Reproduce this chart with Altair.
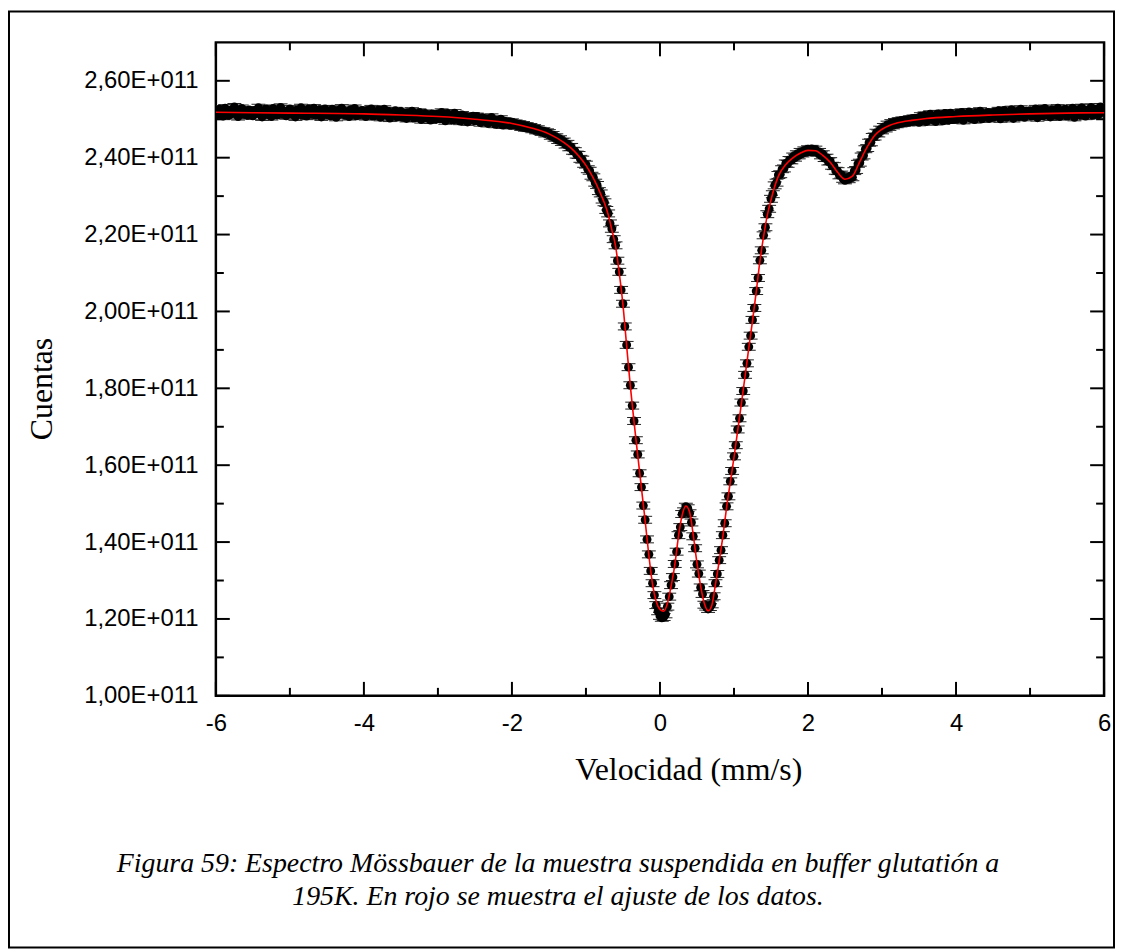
import altair as alt
import pandas as pd

# ---------------- data ----------------
# channel velocities: first channel and channel step (mm/s)
VEL_START = -6.0
VEL_STEP = 0.025
UNIT = 1e8  # counts values below are in units of 1e8

# measured counts (one row = 0.5 mm/s, 20 channels)
COUNTS = [
    2523, 2512, 2526, 2516, 2508, 2529, 2520, 2510, 2524, 2515, 2532, 2521, 2507, 2518, 2528, 2513, 2521, 2510, 2524, 2516,
    2509, 2523, 2515, 2530, 2519, 2506, 2520, 2527, 2512, 2522, 2507, 2528, 2517, 2511, 2523, 2531, 2514, 2520, 2509, 2522,
    2527, 2513, 2519, 2506, 2524, 2516, 2530, 2511, 2521, 2508, 2526, 2518, 2513, 2529, 2510, 2519, 2524, 2506, 2516, 2527,
    2512, 2521, 2509, 2526, 2517, 2505, 2523, 2513, 2529, 2518, 2510, 2520, 2507, 2525, 2515, 2528, 2509, 2518, 2512, 2523,
    2518, 2507, 2523, 2513, 2527, 2508, 2519, 2511, 2524, 2505, 2516, 2526, 2510, 2521, 2503, 2517, 2512, 2522, 2506, 2515,
    2520, 2505, 2515, 2502, 2517, 2509, 2521, 2503, 2513, 2507, 2518, 2499, 2511, 2515, 2503, 2510, 2498, 2514, 2506, 2501,
    2514, 2501, 2518, 2505, 2496, 2515, 2504, 2510, 2498, 2516, 2502, 2509, 2495, 2511, 2500, 2507, 2493, 2505, 2499, 2508,
    2496, 2507, 2499, 2491, 2504, 2495, 2501, 2489, 2498, 2505, 2493, 2487, 2497, 2490, 2500, 2485, 2495, 2488, 2493, 2484,
    2492, 2486, 2489, 2483, 2487, 2480, 2485, 2478, 2482, 2477, 2480, 2474, 2477, 2471, 2474, 2470, 2467, 2469, 2463, 2466,
    2464, 2457, 2459, 2452, 2453, 2446, 2448, 2441, 2442, 2434, 2436, 2427, 2428, 2418, 2417, 2408, 2407, 2397, 2395, 2384,
    2382, 2370, 2366, 2353, 2349, 2335, 2329, 2313, 2307, 2291, 2284, 2264, 2255, 2229, 2215, 2188, 2172, 2132, 2103, 2056,
    2020, 1961, 1913, 1855, 1808, 1755, 1715, 1665, 1628, 1579, 1543, 1495, 1458, 1407, 1368, 1325, 1293, 1262, 1236, 1220,
    1208, 1203, 1205, 1212, 1232, 1258, 1288, 1309, 1343, 1375, 1418, 1439, 1473, 1480, 1492, 1488, 1475, 1451, 1415, 1384,
    1342, 1318, 1282, 1265, 1237, 1232, 1226, 1231, 1238, 1259, 1293, 1317, 1353, 1379, 1418, 1449, 1493, 1519, 1558, 1585,
    1623, 1652, 1693, 1722, 1763, 1793, 1835, 1865, 1908, 1937, 1978, 2009, 2053, 2087, 2133, 2159, 2198, 2219, 2253, 2267,
    2293, 2305, 2328, 2335, 2355, 2357, 2370, 2372, 2385, 2384, 2394, 2393, 2403, 2400, 2409, 2406, 2415, 2411, 2419, 2414,
    2422, 2416, 2423, 2415, 2421, 2413, 2415, 2406, 2409, 2399, 2400, 2390, 2391, 2379, 2378, 2366, 2365, 2354, 2356, 2345,
    2341, 2348, 2344, 2352, 2349, 2365, 2368, 2384, 2387, 2403, 2406, 2422, 2425, 2439, 2440, 2454, 2455, 2465, 2463, 2473,
    2471, 2480, 2476, 2486, 2480, 2490, 2484, 2493, 2487, 2495, 2489, 2497, 2491, 2498, 2492, 2500, 2494, 2502, 2495, 2503,
    2492, 2508, 2497, 2510, 2494, 2505, 2513, 2499, 2508, 2494, 2514, 2501, 2510, 2496, 2515, 2503, 2498, 2516, 2499, 2509,
    2500, 2515, 2503, 2518, 2497, 2512, 2507, 2519, 2502, 2513, 2499, 2517, 2509, 2521, 2501, 2512, 2506, 2518, 2502, 2515,
    2505, 2519, 2508, 2522, 2501, 2514, 2523, 2505, 2517, 2509, 2525, 2502, 2515, 2520, 2507, 2526, 2511, 2505, 2521, 2513,
    2522, 2508, 2519, 2527, 2504, 2516, 2524, 2509, 2528, 2512, 2520, 2506, 2525, 2516, 2510, 2529, 2507, 2521, 2513, 2526,
    2508, 2522, 2514, 2529, 2505, 2519, 2525, 2511, 2530, 2516, 2508, 2524, 2517, 2531, 2510, 2520, 2526, 2512, 2532, 2518,
    2523,
]
ERR = 9  # error bar half-length, same units

# fitted curve (red), read at knots
FIT_V = [-6.0, -5.0, -4.0, -3.5, -3.0, -2.5, -2.0, -1.75, -1.5, -1.3, -1.2, -1.1, -1.0, -0.95,
         -0.9, -0.85, -0.8, -0.75, -0.7, -0.65, -0.6, -0.55, -0.5, -0.45, -0.4, -0.35, -0.3,
         -0.25, -0.2, -0.15, -0.1, -0.05, 0.0, 0.05, 0.1, 0.15, 0.2, 0.25, 0.3, 0.35, 0.4,
         0.45, 0.5, 0.55, 0.6, 0.65, 0.7, 0.75, 0.8, 0.85, 0.9, 0.95, 1.0, 1.05, 1.1, 1.15,
         1.2, 1.25, 1.3, 1.35, 1.4, 1.45, 1.5, 1.55, 1.6, 1.7, 1.8, 1.9, 2.0, 2.1, 2.2, 2.3,
         2.4, 2.5, 2.6, 2.7, 2.8, 2.9, 3.0, 3.1, 3.2, 3.4, 3.6, 4.0, 4.5, 5.0, 5.5, 6.0]
FIT_C = [2518, 2516, 2514, 2511, 2507, 2500, 2489, 2478, 2462, 2440, 2425, 2405, 2380, 2364,
         2347, 2327, 2305, 2282, 2252, 2212, 2170, 2100, 2017, 1910, 1805, 1712, 1625,
         1540, 1455, 1365, 1290, 1245, 1225, 1220, 1240, 1285, 1340, 1415, 1470, 1494, 1478,
         1418, 1345, 1285, 1240, 1221, 1235, 1290, 1350, 1415, 1490, 1555, 1620, 1690, 1760, 1832,
         1905, 1975, 2050, 2130, 2195, 2250, 2290, 2325, 2352, 2382, 2400, 2412, 2419, 2418, 2406, 2388,
         2362, 2344, 2352, 2390, 2428, 2458, 2474, 2484, 2490, 2497, 2502, 2507, 2511, 2514, 2516, 2517]

X_MAJOR = [-6, -4, -2, 0, 2, 4, 6]
X_MINOR = [-5, -3, -1, 1, 3, 5]
Y_MAJOR = [1.0e11, 1.2e11, 1.4e11, 1.6e11, 1.8e11, 2.0e11, 2.2e11, 2.4e11, 2.6e11]
Y_MINOR = [1.1e11, 1.3e11, 1.5e11, 1.7e11, 1.9e11, 2.1e11, 2.3e11, 2.5e11]

X_TITLE = "Velocidad (mm/s)"
Y_TITLE = "Cuentas"
CAPTION = ["Figura 59: Espectro Mössbauer de la muestra suspendida en buffer glutatión a",
           "195K. En rojo se muestra el ajuste de los datos."]

# ---------------- chart ----------------
W, H = 893, 657
SANS = "Liberation Sans, Arial, sans-serif"
SERIF = "Liberation Serif, Times New Roman, serif"

pts = pd.DataFrame({
    "v": [round(VEL_START + VEL_STEP * i, 4) for i in range(len(COUNTS))],
    "c": [c * UNIT for c in COUNTS],
})
pts["lo"] = pts["c"] - ERR * UNIT
pts["hi"] = pts["c"] + ERR * UNIT
fit_df = pd.DataFrame({"v": FIT_V, "c": [c * UNIT for c in FIT_C]})

xs = alt.Scale(domain=[-6, 6], nice=False, zero=False)
ys = alt.Scale(domain=[1.0e11, 2.70e11], nice=False, zero=False)

xaxis = alt.Axis(values=X_MAJOR, ticks=False, domain=False, grid=False,
                 labelExpr="'' + datum.value", labelFont=SANS, labelFontSize=24,
                 labelColor="black", labelPadding=16, labelFlush=False, labelOverlap=False,
                 title=X_TITLE, titleFont=SERIF, titleFontSize=32, titleFontWeight="normal",
                 titleColor="black", titleX=475, titleY=84, titleBaseline="alphabetic",
                 titleAlign="center")
yaxis = alt.Axis(values=Y_MAJOR, ticks=False, domain=False, grid=False,
                 labelExpr="replace(format(datum.value / 1e11, '.2f'), '.', ',') + 'E+011'",
                 labelFont=SANS, labelFontSize=24, labelColor="black", labelPadding=18,
                 labelFlush=False, labelOverlap=False,
                 title=Y_TITLE, titleFont=SERIF, titleFontSize=32, titleFontWeight="normal",
                 titleColor="black", titleAngle=270, titleX=-165, titleY=348,
                 titleBaseline="alphabetic", titleAlign="center")


def X(f):
    return alt.X(f, type="quantitative", scale=xs, axis=xaxis)


def Y(f):
    return alt.Y(f, type="quantitative", scale=ys, axis=yaxis)


bars = alt.Chart(pts).mark_rule(color="black", strokeWidth=1, clip=True).encode(
    x=X("v"), y=Y("lo"), y2="hi")
cap_lo = alt.Chart(pts).mark_rule(color="#222222", strokeWidth=1, xOffset=-7, x2Offset=7, clip=True).encode(
    x=X("v"), x2="v", y=Y("lo"))
cap_hi = alt.Chart(pts).mark_rule(color="#222222", strokeWidth=1, xOffset=-7, x2Offset=7, clip=True).encode(
    x=X("v"), x2="v", y=Y("hi"))
dots = alt.Chart(pts).mark_circle(color="black", size=80, opacity=1, clip=True).encode(
    x=X("v"), y=Y("c"))
fit = alt.Chart(fit_df).mark_line(color="#ff0000", strokeWidth=1.6, interpolate="monotone", clip=True).encode(
    x=X("v"), y=Y("c"))

xmaj = pd.DataFrame({"t": X_MAJOR})
xmin = pd.DataFrame({"t": X_MINOR})
ymaj = pd.DataFrame({"t": Y_MAJOR})
ymin = pd.DataFrame({"t": Y_MINOR})
TK = dict(color="black", strokeWidth=2)
ticks = [
    alt.Chart(xmaj).mark_rule(**TK).encode(x=X("t"), y=alt.value(H), y2=alt.value(H - 14)),
    alt.Chart(xmaj).mark_rule(**TK).encode(x=X("t"), y=alt.value(0), y2=alt.value(14)),
    alt.Chart(xmin).mark_rule(**TK).encode(x=X("t"), y=alt.value(H), y2=alt.value(H - 8)),
    alt.Chart(xmin).mark_rule(**TK).encode(x=X("t"), y=alt.value(0), y2=alt.value(8)),
    alt.Chart(ymaj).mark_rule(**TK).encode(y=Y("t"), x=alt.value(0), x2=alt.value(14)),
    alt.Chart(ymaj).mark_rule(**TK).encode(y=Y("t"), x=alt.value(W), x2=alt.value(W - 14)),
    alt.Chart(ymin).mark_rule(**TK).encode(y=Y("t"), x=alt.value(0), x2=alt.value(8)),
    alt.Chart(ymin).mark_rule(**TK).encode(y=Y("t"), x=alt.value(W), x2=alt.value(W - 8)),
]

one = pd.DataFrame({"k": [0]})
frame = alt.Chart(one).mark_rect(fillOpacity=0, stroke="black", strokeWidth=2).encode(
    x=alt.value(-208), x2=alt.value(903), y=alt.value(-31), y2=alt.value(910))
caption = alt.Chart(one).mark_text(font=SERIF, fontStyle="italic", fontSize=28, lineHeight=33,
                                   align="center", baseline="alphabetic", color="black").encode(
    x=alt.value(344), y=alt.value(834), text=alt.value(CAPTION))

chart = alt.layer(frame, bars, cap_lo, cap_hi, dots, fit, *ticks, caption).properties(
    width=W, height=H, padding=0, background="white"
).configure_view(stroke="black", strokeWidth=2.5)

chart.save("out.html", embed_options={"renderer": "svg", "actions": False})
